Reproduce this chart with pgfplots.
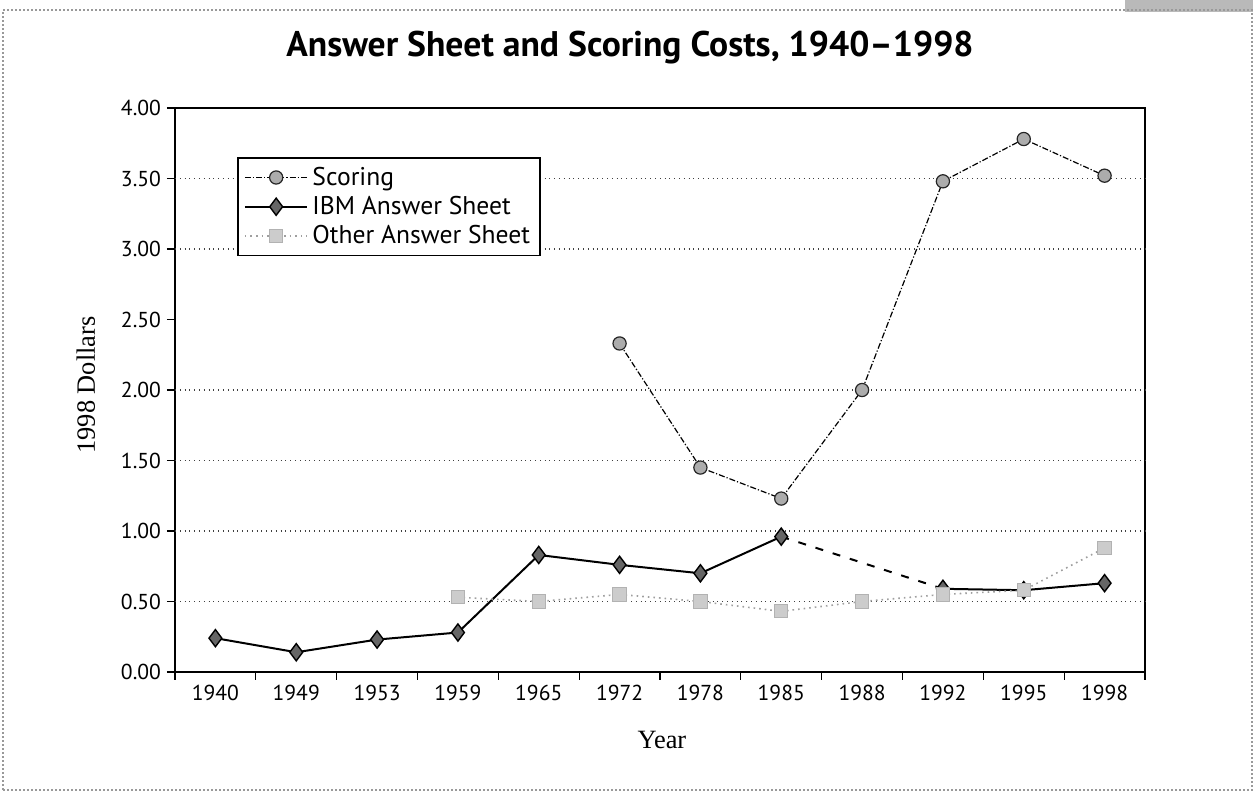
\documentclass[border=0pt]{standalone}
\usepackage{pgfplots}
\pgfplotsset{compat=1.18}
\usepackage{fontspec}
\setmainfont{PT Sans}
\newfontfamily\seriffont{Liberation Serif}

\begin{document}
\begin{tikzpicture}
% page frame
\path (-87.5pt,-60pt) rectangle (539pt,336pt);
\fill[gray!55] (475pt,330pt) rectangle (539pt,336pt);
\draw[gray!80, line width=1pt, densely dotted] (-86pt,-59pt) rectangle (538.5pt,331pt);

\begin{axis}[
    at={(0,0)}, anchor=south west,
    scale only axis,
    width=485pt, height=282pt,
    xmin=-0.5, xmax=11.5,
    ymin=0, ymax=4,
    axis line style={line width=0.9pt},
    tick pos=left,
    tick align=outside,
    major tick length=4pt,
    tick style={black, line width=0.6pt},
    xtick={-0.5,0.5,...,11.5},
    xticklabels={},
    extra x ticks={0,1,2,3,4,5,6,7,8,9,10,11},
    extra x tick labels={1940,1949,1953,1959,1965,1972,1978,1985,1988,1992,1995,1998},
    extra x tick style={major tick length=0pt},
    ytick={0,0.5,...,4},
    extra y ticks={0.5,1,1.5,2,3,3.5},
    extra y tick labels={},
    extra y tick style={grid=major, major tick length=0pt},
    grid style={black!75, dotted, line width=0.6pt},
    yticklabel style={xshift=0.5pt, /pgf/number format/.cd, fixed, fixed zerofill, precision=2, assume math mode=true},
    ticklabel style={font=\fontsize{10.8}{12}\selectfont},
    xticklabel style={yshift=-3pt},
    xlabel={Year},
    ylabel={1998 Dollars},
    label style={font=\seriffont\fontsize{13.2}{15}\selectfont},
    xlabel style={at={(axis description cs:0.502,-0.12)}, anchor=center},
    ylabel style={at={(axis description cs:-0.092,0.509)}, anchor=center},
    legend style={at={(0.064,0.913)}, anchor=north west, draw=black, line width=0.8pt,
        font=\fontsize{12.8}{15}\selectfont, inner xsep=3pt, inner ysep=2.5pt,
        row sep=0pt},
    legend cell align=left,
    legend image code/.code={\draw[mark repeat=2,mark phase=2,#1] plot coordinates {(0cm,0cm) (0.55cm,0cm) (1.1cm,0cm)};},
    unbounded coords=jump,
]
% Scoring
\addplot[black, line width=0.6pt, dash pattern=on 3pt off 1pt on 0.6pt off 1pt,
    mark=*, mark size=3.3pt, mark options={solid, fill=gray!65, draw=black!85, line width=0.6pt}]
    coordinates {(5,2.33) (6,1.45) (7,1.23) (8,2.00) (9,3.48) (10,3.78) (11,3.52)};
\addlegendentry{Scoring}
% IBM Answer Sheet
\addplot[black, line width=1pt,
    mark=diamond*, mark size=4.3pt, mark options={solid, fill=black!60, draw=black, line width=0.7pt}]
    coordinates {(0,0.24) (1,0.14) (2,0.23) (3,0.28) (4,0.83) (5,0.76) (6,0.70) (7,0.96) (8,nan) (9,0.59) (10,0.58) (11,0.63)};
\addlegendentry{IBM Answer Sheet}
% Other Answer Sheet
\addplot[gray!75, line width=0.8pt, dotted,
    mark=square*, mark size=3.3pt, mark options={solid, fill=gray!40, draw=gray!60, line width=0.5pt}]
    coordinates {(3,0.53) (4,0.50) (5,0.55) (6,0.50) (7,0.43) (8,0.50) (9,0.55) (10,0.58) (11,0.88)};
\addlegendentry{Other Answer Sheet}
% IBM gap bridge 1985-1992
\addplot[black, line width=1pt, dash pattern=on 4pt off 5pt, forget plot]
    coordinates {(7,0.96) (9,0.59)};
\end{axis}

\node[font=\bfseries\fontsize{17.8}{20}\selectfont] at (227.5pt,312pt) {Answer Sheet and Scoring Costs, 1940--1998};
\end{tikzpicture}
\end{document}
